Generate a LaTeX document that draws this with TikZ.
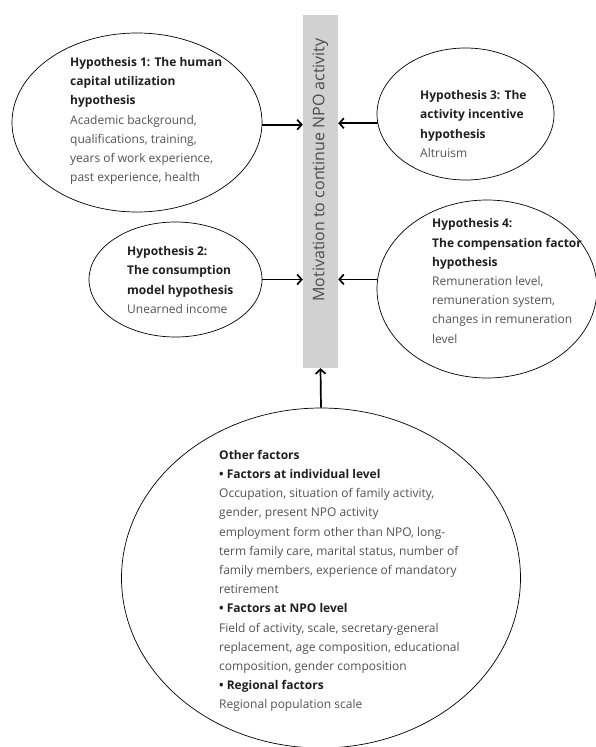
\documentclass[tikz,border=0pt]{standalone}
\usepackage{fontspec}
\setmainfont{Open Sans}
\usetikzlibrary{shapes.geometric,arrows.meta}
\begin{document}
\begin{tikzpicture}[x=1pt,y=-1pt,
  oval/.style={draw=black,line width=0.7pt,ellipse,inner sep=0pt},
  txt/.style={anchor=west,align=left,inner sep=0pt,font=\fontsize{12}{19.2}\selectfont,text=black!68},
  arr/.style={line width=1.7pt,-{Straight Barb[length=4.5pt,width=10pt]}}]
\newcommand\hdr[1]{{\color{black!88}\textbf{#1}}}
\useasboundingbox (0,0) rectangle (595,747);
\node[fill=black!18, minimum width=35pt, minimum height=353pt, inner sep=0pt] (bar) at (320.5,191.5) {};
\node[rotate=90, font=\fontsize{16}{19}\selectfont, text=black!70] (bartext) at (320.5,170) {Motivation to continue NPO activity};

\node[oval, minimum width=250pt, minimum height=179pt] (h1) at (137,122.5) {};
\node[oval, minimum width=173pt, minimum height=115pt] (h2) at (175.5,279.5) {};
\node[oval, minimum width=177pt, minimum height=132pt] (h3) at (465.5,114) {};
\node[oval, minimum width=220pt, minimum height=178pt] (h4) at (487,289) {};
\node[oval, minimum width=399pt, minimum height=340pt] (oth) at (321,578) {};

\node[txt] (t1) at (70,121) {\hdr{Hypothesis 1: The human}\\ \hdr{capital utilization}\\ \hdr{hypothesis}\\ Academic background,\\ qualifications, training,\\ years of work experience,\\ past experience, health};
\node[txt] (t2) at (127,280) {\hdr{Hypothesis 2:}\\ \hdr{The consumption}\\ \hdr{model hypothesis}\\ Unearned income};
\node[txt] (t3) at (420,124) {\hdr{Hypothesis 3: The}\\ \hdr{activity incentive}\\ \hdr{hypothesis}\\ Altruism};
\node[txt] (t4) at (432,281) {\hdr{Hypothesis 4:}\\ \hdr{The compensation factor}\\ \hdr{hypothesis}\\ Remuneration level,\\ remuneration system,\\ changes in remuneration\\ level};
\node[txt] (t5) at (219,581) {\hdr{Other factors}\\ \hdr{• Factors at individual level}\\ Occupation, situation of family activity,\\ gender, present NPO activity\\ employment form other than NPO, long-\\ term family care, marital status, number of\\ family members, experience of mandatory\\ retirement\\ \hdr{• Factors at NPO level}\\ Field of activity, scale, secretary-general\\ replacement, age composition, educational\\ composition, gender composition\\ \hdr{• Regional factors}\\ Regional population scale};

\draw[arr] (h1.359) -- (h1.359 -| bar.west);
\draw[arr] (h2.east) -- (h2.east -| bar.west);
\draw[arr] (h3.186) -- (h3.186 -| bar.east);
\draw[arr] (h4.175) -- (h4.175 -| bar.east);
\draw[arr] (oth.north) -- (bar.south);
\end{tikzpicture}
\end{document}
